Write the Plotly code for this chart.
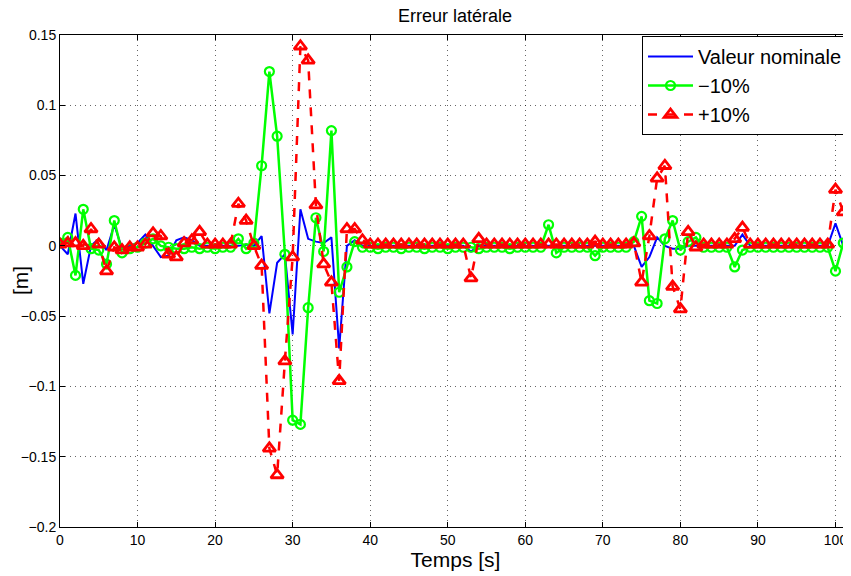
import plotly.graph_objects as go

# Time axis [s]
temps = [0, 1, 2, 3, 4, 5, 6, 7, 8, 9,
         10, 11, 12, 13, 14, 15, 16, 17, 18, 19,
         20, 21, 22, 23, 24, 25, 26, 27, 28, 29,
         30, 31, 32, 33, 34, 35, 36, 37, 38, 39,
         40, 41, 42, 43, 44, 45, 46, 47, 48, 49,
         50, 51, 52, 53, 54, 55, 56, 57, 58, 59,
         60, 61, 62, 63, 64, 65, 66, 67, 68, 69,
         70, 71, 72, 73, 74, 75, 76, 77, 78, 79,
         80, 81, 82, 83, 84, 85, 86, 87, 88, 89,
         90, 91, 92, 93, 94, 95, 96, 97, 98, 99,
         100, 101, 102]

nominale = [0.000, -0.006, 0.023, -0.027, 0.000, 0.005, -0.003, 0.015, -0.002, 0.000,
            0.002, 0.008, 0.000, -0.008, -0.007, 0.004, 0.006, 0.004, 0.000, 0.000,
            0.000, 0.000, 0.000, 0.000, 0.001, 0.000, 0.007, -0.048, -0.012, -0.006,
            -0.063, 0.026, 0.005, 0.003, 0.002, 0.006, -0.073, 0.000, 0.004, 0.000,
            0.000, 0.000, 0.000, 0.000, 0.000, 0.000, 0.000, 0.000, 0.000, 0.000,
            0.000, 0.000, 0.000, -0.004, 0.000, 0.000, 0.000, 0.000, 0.000, 0.000,
            0.000, 0.000, 0.001, 0.000, 0.000, 0.000, 0.000, 0.000, 0.000, 0.000,
            0.000, 0.000, 0.000, 0.000, 0.000, -0.015, -0.008, 0.006, 0.000, -0.002,
            -0.002, 0.000, 0.000, 0.000, 0.000, 0.000, 0.000, 0.000, 0.008, 0.000,
            0.000, 0.000, 0.000, 0.000, 0.000, 0.000, 0.000, 0.000, 0.000, 0.000,
            0.016, 0.000, 0.006]

moins10 = [0.002, 0.006, -0.021, 0.026, -0.002, -0.003, -0.013, 0.018, -0.005, -0.002,
           -0.001, 0.002, 0.005, 0.000, -0.001, -0.002, -0.002, -0.001, -0.002, -0.001,
           -0.002, -0.001, -0.001, 0.005, -0.002, 0.002, 0.057, 0.124, 0.078, -0.006,
           -0.124, -0.127, -0.044, 0.020, -0.004, 0.082, -0.033, -0.015, 0.003, -0.001,
           -0.001, -0.002, -0.001, -0.001, -0.002, -0.001, -0.001, -0.002, -0.001, -0.001,
           -0.002, -0.001, -0.001, -0.001, -0.002, -0.001, -0.001, -0.001, -0.002, -0.001,
           -0.001, -0.001, -0.001, 0.015, -0.005, -0.001, -0.001, -0.001, -0.001, -0.007,
           -0.001, -0.001, -0.001, -0.001, 0.003, 0.021, -0.039, -0.041, 0.005, 0.018,
           -0.003, 0.003, 0.006, -0.001, -0.001, -0.001, -0.001, -0.015, -0.003, -0.001,
           -0.001, -0.001, -0.001, -0.001, -0.001, -0.001, -0.001, -0.001, -0.001, -0.001,
           -0.018, 0.002, 0.024]

plus10 = [0.001, 0.002, 0.002, 0.000, 0.012, 0.001, -0.018, -0.001, -0.003, -0.001,
          -0.001, 0.001, 0.009, 0.007, -0.006, -0.008, 0.002, 0.004, 0.010, 0.001,
          0.001, 0.001, 0.001, 0.030, 0.018, 0.000, -0.014, -0.144, -0.163, -0.082,
          -0.008, 0.142, 0.132, 0.029, -0.013, -0.026, -0.096, 0.012, 0.012, 0.004,
          0.001, 0.001, 0.001, 0.001, 0.001, 0.001, 0.001, 0.001, 0.001, 0.001,
          0.001, 0.001, 0.001, -0.023, 0.005, 0.001, 0.001, 0.001, 0.001, 0.001,
          0.001, 0.001, 0.001, 0.001, 0.001, 0.001, 0.001, 0.001, 0.001, 0.003,
          0.001, 0.001, 0.001, 0.001, 0.002, -0.026, 0.007, 0.048, 0.057, -0.029,
          -0.045, 0.010, -0.001, 0.001, 0.001, 0.001, 0.001, 0.005, 0.013, 0.001,
          0.001, 0.001, 0.001, 0.001, 0.001, 0.001, 0.001, 0.001, 0.001, 0.001,
          0.040, 0.024, -0.020]

x_ticks = [0, 10, 20, 30, 40, 50, 60, 70, 80, 90, 100]
x_ticktext = ["0", "10", "20", "30", "40", "50", "60", "70", "80", "90", "100"]
y_ticks = [-0.2, -0.15, -0.1, -0.05, 0, 0.05, 0.1, 0.15]
y_ticktext = ["\u22120.2", "\u22120.15", "\u22120.1", "\u22120.05", "0", "0.05", "0.1", "0.15"]

FONT = "Liberation Sans, Arial, Helvetica, sans-serif"

# The page body has an 8 px margin; the figure is sized so that it ends at the window edge.
W, H = 843, 568
ML, MT, MR, MB = 52, 27, 0, 49
PW = W - ML - MR

fig = go.Figure()
fig.add_trace(go.Scatter(
    x=temps, y=nominale, mode="lines", name="Valeur nominale",
    line=dict(color="#0000FF", width=2),
))
fig.add_trace(go.Scatter(
    x=temps, y=moins10, mode="lines+markers", name="\u221210%",
    line=dict(color="#00FF00", width=2.5),
    marker=dict(symbol="circle-open", size=9, color="#00FF00", line=dict(width=2.2, color="#00FF00")),
))
fig.add_trace(go.Scatter(
    x=temps, y=plus10, mode="lines+markers", name="+10%",
    line=dict(color="#FF0000", width=2.5, dash="dash"),
    marker=dict(symbol="triangle-up-open", size=11, color="#FF0000", line=dict(width=2.8, color="#FF0000")),
))

axis_common = dict(
    showline=True, linecolor="black", linewidth=1, mirror="ticks",
    ticks="inside", ticklen=5, tickcolor="black", tickwidth=1,
    showgrid=True, gridcolor="rgba(0,0,0,0.6)", griddash="1px,4px", gridwidth=1,
    zeroline=False, automargin=False,
    tickfont=dict(family=FONT, size=14, color="black"),
)

fig.update_layout(
    width=W, height=H,
    margin=dict(l=ML, r=MR, t=MT, b=MB, pad=0),
    paper_bgcolor="white", plot_bgcolor="white",
    font=dict(family=FONT, color="black"),
    title=dict(text="Erreur latérale", x=(455 - 8) / W, xanchor="center",
               y=1 - 1 / H, yanchor="top", font=dict(family=FONT, size=18, color="black")),
    xaxis=dict(range=[0, 102], tickvals=x_ticks, ticktext=x_ticktext,
               title=dict(text="Temps [s]", font=dict(family=FONT, size=21), standoff=2),
               **axis_common),
    yaxis=dict(range=[-0.2, 0.15], tickvals=y_ticks, ticktext=y_ticktext,
               **axis_common),
    annotations=[dict(text="[m]", xref="paper", yref="paper",
                      x=(20 - 8 - ML) / PW, y=0.5, xanchor="center", yanchor="middle",
                      textangle=-90, showarrow=False,
                      font=dict(family=FONT, size=21, color="black"))],
    legend=dict(x=(642 - 8 - ML) / PW, y=0.998, xanchor="left", yanchor="top",
                bgcolor="white", bordercolor="black", borderwidth=1,
                font=dict(family=FONT, size=20, color="black"), tracegroupgap=0,
                itemwidth=45),
    showlegend=True,
)

fig.write_html("out.html")
